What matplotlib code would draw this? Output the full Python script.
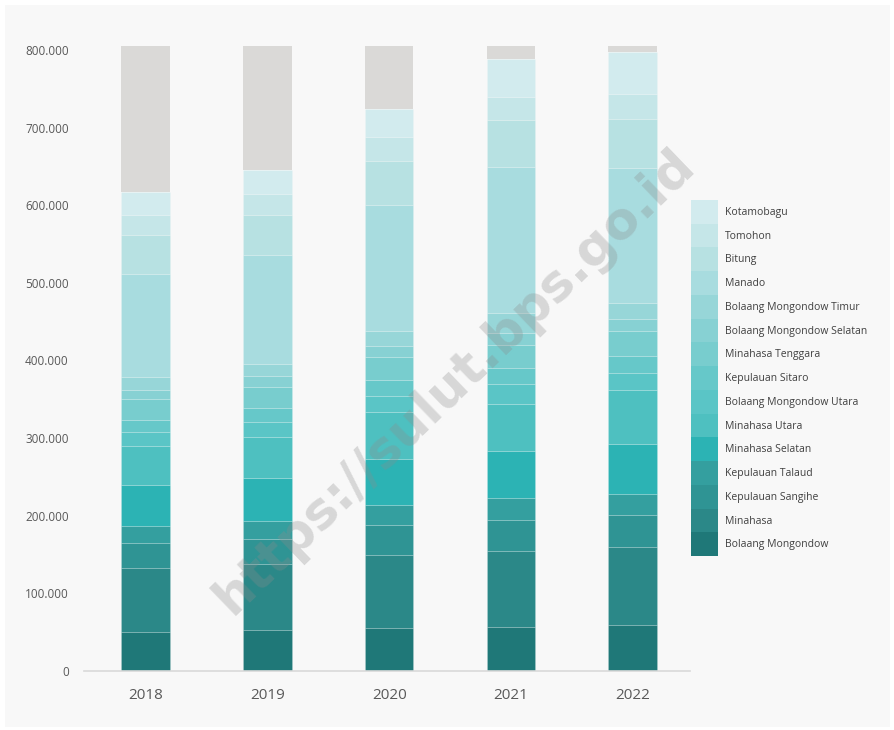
import matplotlib
matplotlib.use("Agg")
import matplotlib.pyplot as plt
import numpy as np
from matplotlib.ticker import FuncFormatter

years = ["2018", "2019", "2020", "2021", "2022"]

# bottom -> top of each stack
regions = [
    "Bolaang Mongondow", "Minahasa", "Kepulauan Sangihe", "Kepulauan Talaud",
    "Minahasa Selatan", "Minahasa Utara", "Bolaang Mongondow Utara",
    "Kepulauan Sitaro", "Minahasa Tenggara", "Bolaang Mongondow Selatan",
    "Bolaang Mongondow Timur", "Manado", "Bitung", "Tomohon", "Kotamobagu",
]

bolaang_mongondow = [50600, 52800, 55800, 57100, 59300]
minahasa = [81700, 84600, 93600, 97900, 101000]
sangihe = [32600, 32600, 39100, 40100, 41200]
talaud = [21400, 22800, 25800, 27500, 27100]
minahasa_selatan = [53300, 56100, 58800, 61400, 64400]
minahasa_utara = [50300, 52900, 60900, 59800, 69000]
bolmong_utara = [17600, 19400, 20600, 25700, 22400]
sitaro = [15800, 18000, 20300, 20700, 21900]
minahasa_tenggara = [27100, 27000, 29600, 29800, 31700]
bolmong_selatan = [11600, 13400, 14600, 15900, 15500]
bolmong_timur = [16200, 16300, 18900, 24900, 20600]
manado = [133600, 140200, 162000, 188700, 173900]
bitung = [49400, 51500, 57200, 60200, 63100]
tomohon = [25800, 26200, 30600, 30100, 32600]
kotamobagu = [30100, 31000, 35600, 48100, 54100]
# grey filler at the top of every bar
filler = [188300, 160400, 81600, 17100, 7200]

series = [bolaang_mongondow, minahasa, sangihe, talaud, minahasa_selatan,
          minahasa_utara, bolmong_utara, sitaro, minahasa_tenggara,
          bolmong_selatan, bolmong_timur, manado, bitung, tomohon, kotamobagu]

colors = ["#1f7878", "#2b8888", "#2f9494", "#349f9f", "#2cb3b4", "#4ec0c0",
          "#5ac5c6", "#66c8c9", "#78cdce", "#87d1d3", "#97d6d8", "#a8dcdf",
          "#b7e1e2", "#c5e6e8", "#d2ebee"]

plt.rcParams['font.family'] = ['Open Sans', 'DejaVu Sans']

fig = plt.figure(figsize=(8.95, 7.3), dpi=100, facecolor="white")
# light panel behind everything
panel = plt.Rectangle((5 / 895, 3 / 730), 885 / 895, 722 / 730,
                      transform=fig.transFigure, facecolor="#f8f8f8",
                      edgecolor="none", zorder=-5)
fig.patches.append(panel)

ax = fig.add_axes([84 / 895, 59 / 730, 606 / 895, 625 / 730])
ax.set_facecolor("none")
ax.set_zorder(2)

x = np.arange(len(years))
bottom = np.zeros(len(years))
handles = []
for name, vals, c in zip(regions, series, colors):
    b = ax.bar(x, vals, 0.4, bottom=bottom, color=c, label=name,
               edgecolor=(1, 1, 1, 0.2), linewidth=0.5, zorder=2)
    handles.append(b)
    bottom += np.array(vals)
ax.bar(x, filler, 0.4, bottom=bottom, color="#dad9d7", edgecolor="none", zorder=2)

ax.set_xlim(-0.505, 4.47)
ax.set_ylim(0, 805000)
ax.set_yticks(np.arange(0, 800001, 100000))
ax.yaxis.set_major_formatter(FuncFormatter(lambda v, p: f"{int(v):,}".replace(",", ".")))
ax.set_xticks(x)
ax.set_xticklabels(years)
ax.tick_params(axis="y", length=0, pad=11, labelsize=8.5, labelcolor="#595959")
ax.tick_params(axis="x", length=0, pad=12, labelsize=11, labelcolor="#595959")
for s in ["top", "right", "left"]:
    ax.spines[s].set_visible(False)
ax.spines["bottom"].set_color("#d9d9d9")
ax.spines["bottom"].set_linewidth(1.2)

fs = 7.5
leg = fig.legend(handles[::-1], regions[::-1], loc="upper left",
                 bbox_to_anchor=(691 / 895, 1 - 200 / 730), frameon=False,
                 fontsize=fs, handlelength=2.59, handleheight=3.13,
                 labelspacing=0, handletextpad=0.7, borderpad=0,
                 borderaxespad=0)
leg.set_zorder(3)
for t in leg.get_texts():
    t.set_color("#404040")
for h in leg.legend_handles:
    h.set_edgecolor("none")

# watermark
fig.text(0.508, 0.477, "https://sulut.bps.go.id", rotation=44, ha="center",
         va="center", fontsize=37, fontweight="bold", color="#8c8c8c",
         alpha=0.3, family=["DejaVu Sans"], zorder=10)

fig.savefig("out.png", dpi=100, facecolor="white")
